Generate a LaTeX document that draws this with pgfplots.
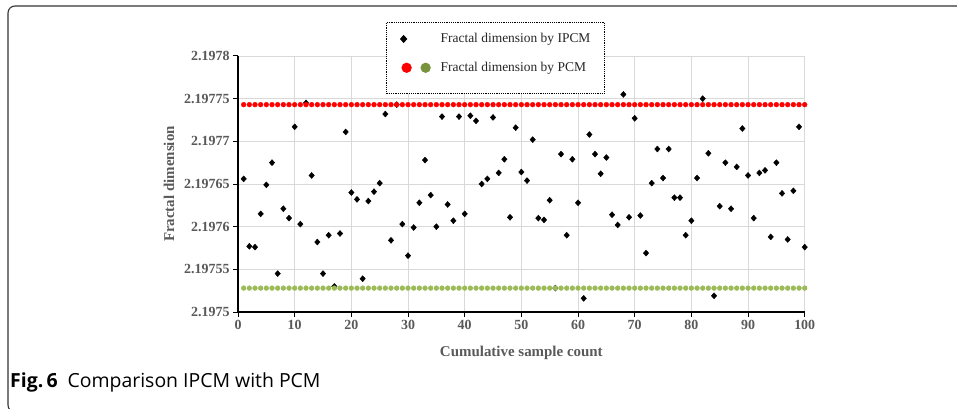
\documentclass[border=0pt]{standalone}
\usepackage{fontspec}
\setmainfont{Liberation Serif}
\newfontfamily\capfont{Open Sans}
\usepackage{pgfplots}
\usepackage{pgfplotstable}
\pgfplotsset{compat=1.18}

\definecolor{tickgray}{HTML}{595959}
\definecolor{gridgray}{HTML}{D9D9D9}
\definecolor{pcmred}{HTML}{FF0000}
\definecolor{pcmgreen}{HTML}{9BBB59}
\definecolor{legendgreen}{HTML}{77933C}

% n = cumulative sample count; ipcm = improved method; pcmr / pcmg = PCM reference lines
\pgfplotstableread{
n ipcm pcmr pcmg
1 2.197656 2.197743 2.197528
2 2.197577 2.197743 2.197528
3 2.197576 2.197743 2.197528
4 2.197615 2.197743 2.197528
5 2.197649 2.197743 2.197528
6 2.197675 2.197743 2.197528
7 2.197545 2.197743 2.197528
8 2.197621 2.197743 2.197528
9 2.197610 2.197743 2.197528
10 2.197717 2.197743 2.197528
11 2.197603 2.197743 2.197528
12 2.197745 2.197743 2.197528
13 2.197660 2.197743 2.197528
14 2.197582 2.197743 2.197528
15 2.197545 2.197743 2.197528
16 2.197590 2.197743 2.197528
17 2.197530 2.197743 2.197528
18 2.197592 2.197743 2.197528
19 2.197711 2.197743 2.197528
20 2.197640 2.197743 2.197528
21 2.197632 2.197743 2.197528
22 2.197539 2.197743 2.197528
23 2.197630 2.197743 2.197528
24 2.197641 2.197743 2.197528
25 2.197651 2.197743 2.197528
26 2.197732 2.197743 2.197528
27 2.197584 2.197743 2.197528
28 2.197743 2.197743 2.197528
29 2.197603 2.197743 2.197528
30 2.197566 2.197743 2.197528
31 2.197599 2.197743 2.197528
32 2.197628 2.197743 2.197528
33 2.197678 2.197743 2.197528
34 2.197637 2.197743 2.197528
35 2.197600 2.197743 2.197528
36 2.197729 2.197743 2.197528
37 2.197626 2.197743 2.197528
38 2.197607 2.197743 2.197528
39 2.197729 2.197743 2.197528
40 2.197615 2.197743 2.197528
41 2.197730 2.197743 2.197528
42 2.197724 2.197743 2.197528
43 2.197650 2.197743 2.197528
44 2.197656 2.197743 2.197528
45 2.197728 2.197743 2.197528
46 2.197663 2.197743 2.197528
47 2.197679 2.197743 2.197528
48 2.197611 2.197743 2.197528
49 2.197716 2.197743 2.197528
50 2.197664 2.197743 2.197528
51 2.197654 2.197743 2.197528
52 2.197702 2.197743 2.197528
53 2.197610 2.197743 2.197528
54 2.197608 2.197743 2.197528
55 2.197631 2.197743 2.197528
56 2.197528 2.197743 2.197528
57 2.197685 2.197743 2.197528
58 2.197590 2.197743 2.197528
59 2.197679 2.197743 2.197528
60 2.197628 2.197743 2.197528
61 2.197516 2.197743 2.197528
62 2.197708 2.197743 2.197528
63 2.197685 2.197743 2.197528
64 2.197662 2.197743 2.197528
65 2.197681 2.197743 2.197528
66 2.197614 2.197743 2.197528
67 2.197602 2.197743 2.197528
68 2.197755 2.197743 2.197528
69 2.197611 2.197743 2.197528
70 2.197727 2.197743 2.197528
71 2.197613 2.197743 2.197528
72 2.197569 2.197743 2.197528
73 2.197651 2.197743 2.197528
74 2.197691 2.197743 2.197528
75 2.197657 2.197743 2.197528
76 2.197691 2.197743 2.197528
77 2.197634 2.197743 2.197528
78 2.197634 2.197743 2.197528
79 2.197590 2.197743 2.197528
80 2.197607 2.197743 2.197528
81 2.197657 2.197743 2.197528
82 2.197750 2.197743 2.197528
83 2.197686 2.197743 2.197528
84 2.197519 2.197743 2.197528
85 2.197624 2.197743 2.197528
86 2.197675 2.197743 2.197528
87 2.197621 2.197743 2.197528
88 2.197670 2.197743 2.197528
89 2.197715 2.197743 2.197528
90 2.197660 2.197743 2.197528
91 2.197610 2.197743 2.197528
92 2.197663 2.197743 2.197528
93 2.197666 2.197743 2.197528
94 2.197588 2.197743 2.197528
95 2.197675 2.197743 2.197528
96 2.197639 2.197743 2.197528
97 2.197585 2.197743 2.197528
98 2.197642 2.197743 2.197528
99 2.197717 2.197743 2.197528
100 2.197576 2.197743 2.197528
}\fracdata

\begin{document}
\begin{tikzpicture}[x=1bp,y=1bp]
\useasboundingbox (0,0) rectangle (957,408);
% figure frame (only top and left edge visible)
\draw[line width=1.1bp, black!80, rounded corners=7bp] (965,402) -- (8,402) -- (8,-4) -- (30,-4);

\begin{axis}[
    at={(238bp,96bp)}, anchor=south west,
    scale only axis,
    width=566.7bp, height=256bp,
    xmin=0, xmax=100,
    ymin=2.1975, ymax=2.1978,
    xtick={0,10,...,100},
    ytick={2.1975,2.19755,2.1976,2.19765,2.1977,2.19775,2.1978},
    yticklabels={2.1975,2.19755,2.1976,2.19765,2.1977,2.19775,2.1978},
    /pgf/number format/assume math mode=true,
    axis x line*=bottom, axis y line*=left,
    axis line style={-, black, line width=1.2bp},
    tick align=outside, major tick length=5bp,
    tick style={black, line width=1bp},
    grid=major,
    major grid style={gridgray, line width=0.8bp},
    tick label style={font=\bfseries\fontsize{14}{14}\selectfont, text=tickgray},
    label style={font=\bfseries\fontsize{15}{15}\selectfont, text=tickgray},
    xlabel={Cumulative sample count},
    ylabel={Fractal dimension},
    xlabel style={at={(0.5,-0.16)}, anchor=center},
    ylabel style={at={(-0.1218,0.5)}, anchor=center},
    clip=false,
    legend style={at={(0.2612,1.133)}, anchor=north west,
        draw=black, densely dotted, line width=1.2bp, fill=white,
        inner xsep=12bp, inner ysep=9bp, row sep=14bp,
        font=\fontsize{13.5}{13.5}\selectfont, text=black!85,
        cells={anchor=west}},
]
\addplot[only marks, mark=diamond*, mark size=3bp, black,
    mark options={solid, xscale=1.2},
    legend image code/.code={\draw[black, fill=black, solid, only marks, mark=diamond*, mark size=3.2bp, mark options={xscale=1.2}] plot coordinates {(5bp,0bp)}; \path[draw=none, fill=none] (0,0) -- (40bp,0);}]
    table[x=n, y=ipcm] {\fracdata};
\addlegendentry{Fractal dimension by IPCM\hspace{5bp}}
\addplot[only marks, mark=*, mark size=2.4bp, pcmred, mark options={solid},
    legend image code/.code={\fill[pcmred] (8bp,0) circle (4.5bp); \fill[legendgreen] (27bp,0) circle (4.5bp); \path[draw=none, fill=none] (0,-17bp) -- (40bp,0);}]
    table[x=n, y=pcmr] {\fracdata};
\addlegendentry{Fractal dimension by PCM}
\addplot[only marks, mark=*, mark size=2.4bp, pcmgreen, mark options={solid}, forget plot]
    table[x=n, y=pcmg] {\fracdata};
\end{axis}

\node[anchor=base west, inner sep=0pt, font=\capfont\fontsize{19.5}{19.5}\selectfont] at (10,21)
    {\textbf{Fig.\,6}\hspace{10bp}Comparison IPCM with PCM};
\end{tikzpicture}
\end{document}
